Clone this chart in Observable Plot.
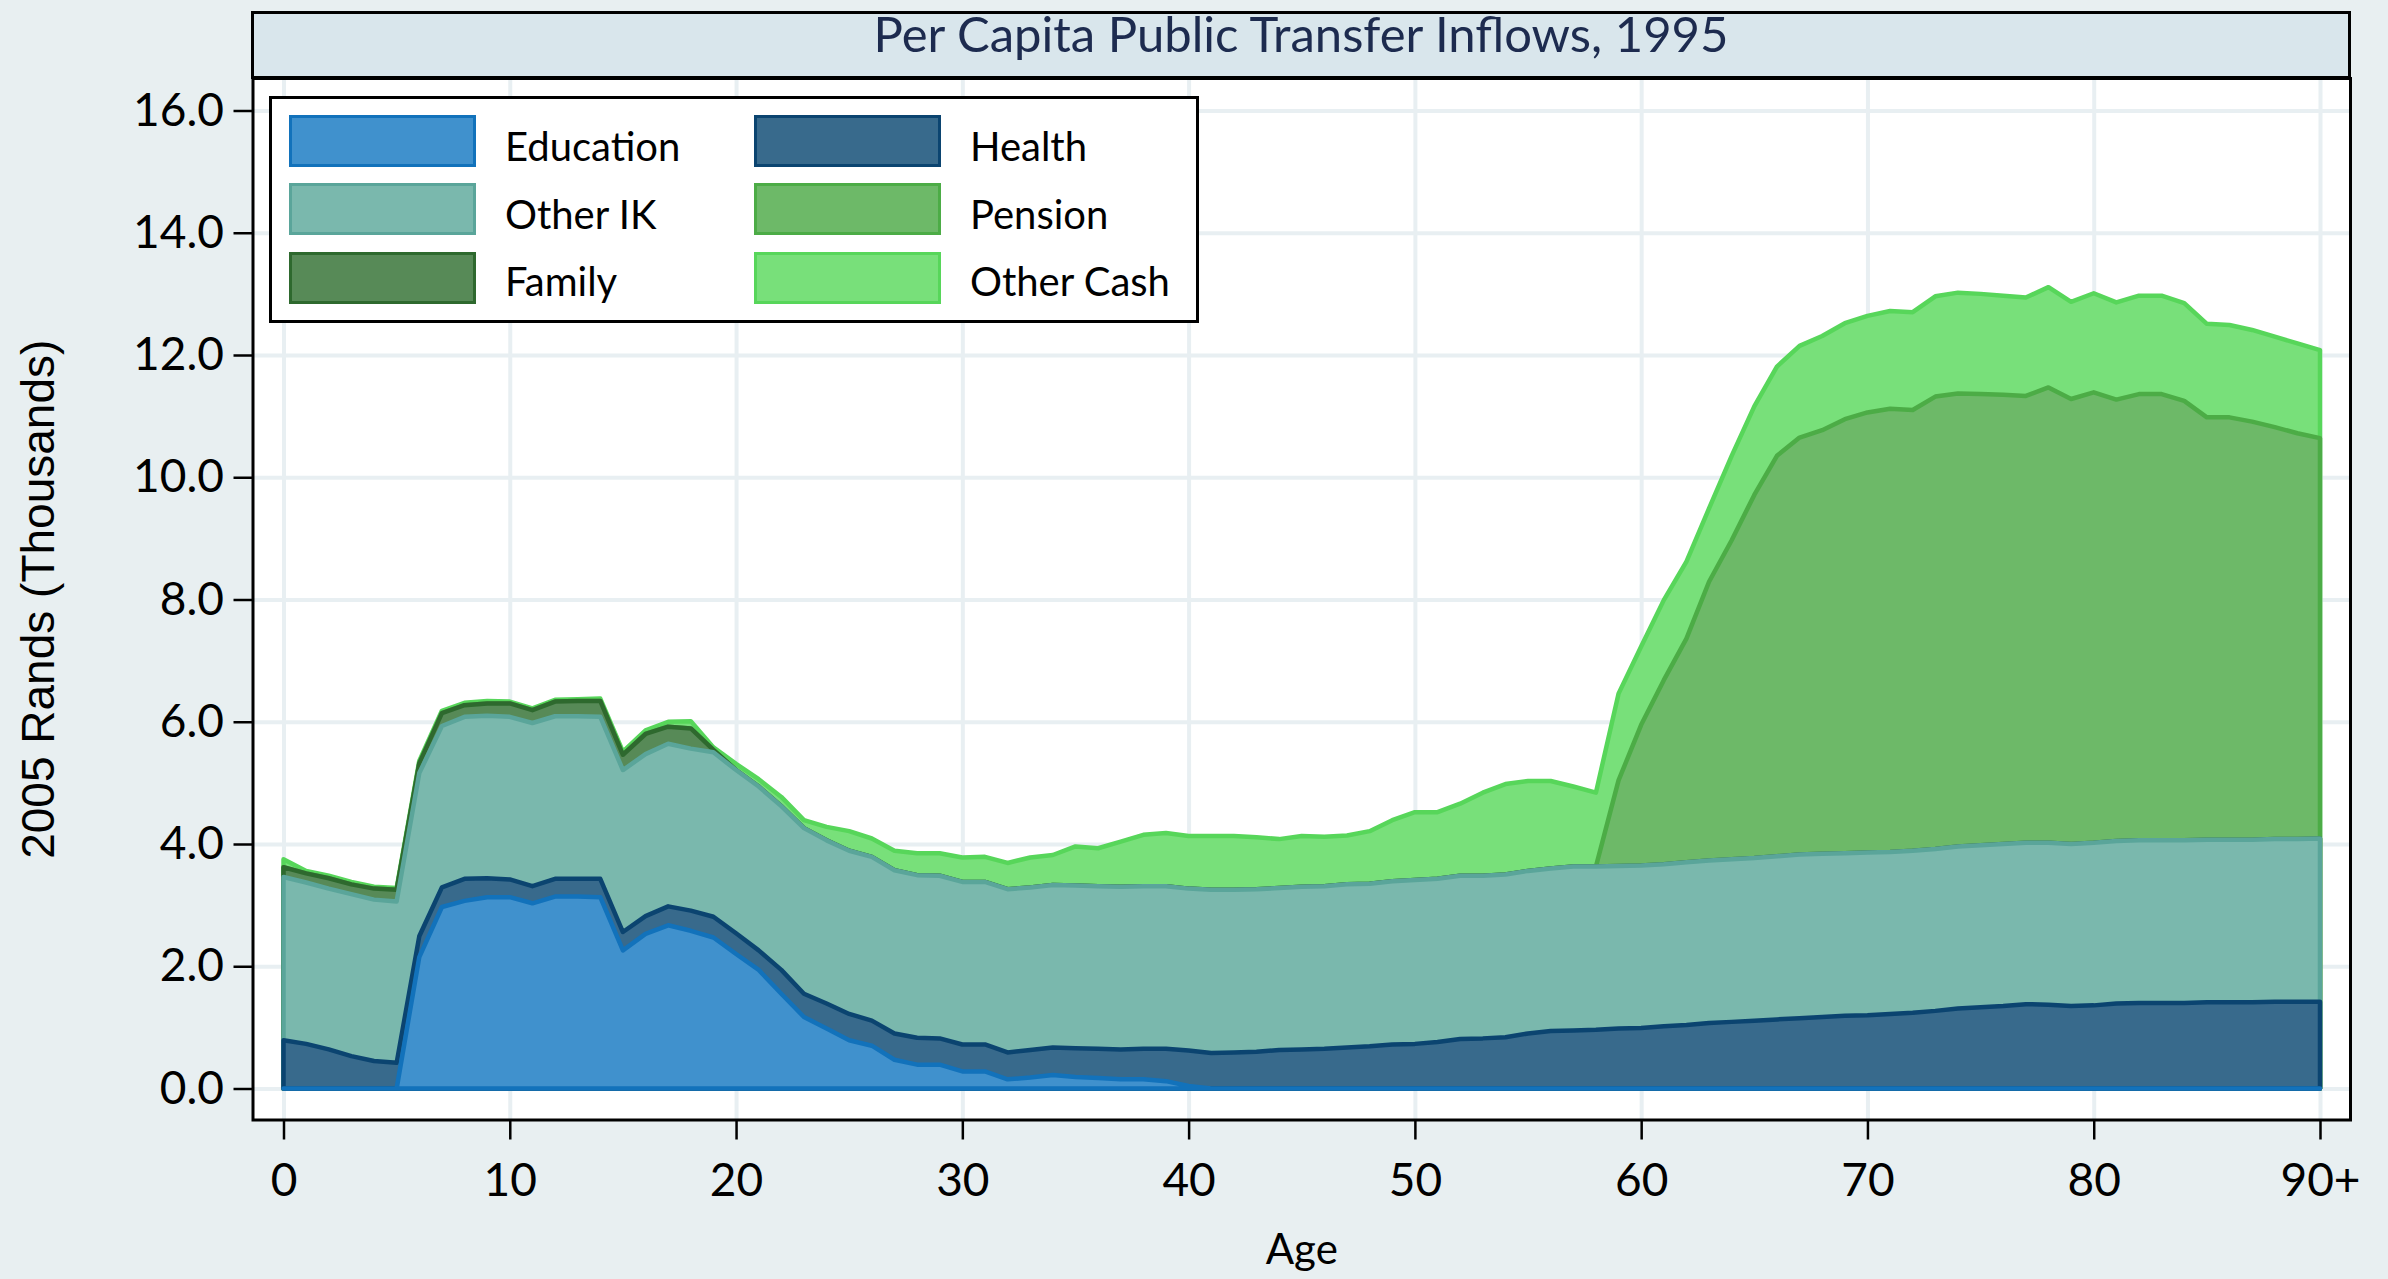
<!DOCTYPE html>
<html>
<head>
<meta charset="utf-8">
<script src="https://cdn.jsdelivr.net/npm/d3@7"></script>
<script src="https://cdn.jsdelivr.net/npm/@observablehq/plot@0.6"></script>
<style>
html, body { margin: 0; padding: 0; background: #e8eff1; }
#wrap { position: relative; width: 2388px; height: 1279px; overflow: hidden; background: #e8eff1; }
#wrap svg { position: absolute; left: 0; top: 0; }
#titleband { position: absolute; left: 251px; top: 11px; width: 2100px; height: 68px; box-sizing: border-box;
  border: 3px solid #000; background: #d9e6ec; }
#titletext { position: absolute; left: 251px; top: 4px; width: 2100px; text-align: center;
  font-family: Lato, sans-serif; font-size: 49px; line-height: 1.2; color: #1d2b4f; white-space: nowrap; }
#legend { position: absolute; left: 269px; top: 96px; width: 930px; height: 227px; box-sizing: border-box;
  border: 3px solid #000; background: #fff; }
.sw { position: absolute; width: 187px; height: 52px; box-sizing: border-box; border: 3px solid; }
.lt { position: absolute; font-family: Lato, sans-serif; font-size: 40px; line-height: 48px; color: #000; white-space: nowrap; }
</style>
</head>
<body>
<div id="wrap"></div>
<script>
// ---- data (thousands of 2005 Rands per capita), ages 0..90+ ----
const ages = Array.from({length: 91}, (_, i) => i);
const xTicks = [0, 10, 20, 30, 40, 50, 60, 70, 80, 90];
const xTickLabels = ["0", "10", "20", "30", "40", "50", "60", "70", "80", "90+"];
const yTicks = [0, 2, 4, 6, 8, 10, 12, 14, 16];

const education = [
  0,0,0,0,0,0,
  2.15,2.97,3.07,3.13,3.13,3.03,3.14,3.14,3.13,2.26,2.53,2.67,2.58,2.47,2.20,1.94,
  1.55,1.17,0.98,0.79,0.70,0.47,0.39,0.39,0.28,0.28,0.15,0.18,0.22,0.19,0.17,0.15,0.15,0.12,0.04,
  0,0,0,0,0,0,0,0,0,0, 0,0,0,0,0,0,0,0,0,0, 0,0,0,0,0,0,0,0,0,0, 0,0,0,0,0,0,0,0,0,0, 0,0,0,0,0,0,0,0,0,0
];
const health = [
  0.79,0.73,0.64,0.53,0.45,0.42,
  0.34,0.32,0.36,0.31,0.29,0.28,0.29,0.29,0.30,0.30,0.29,0.31,0.33,0.34,0.34,0.32,
  0.39,0.38,0.41,0.43,0.41,0.43,0.44,0.43,0.44,0.44,0.44,0.45,0.45,0.47,0.48,0.49,0.50,0.53,0.58,
  0.58,0.59,0.60,0.63,0.64,0.65,0.67,0.69,0.72,0.73,0.76,0.81,0.82,0.84,0.90,0.94,0.95,0.96,0.98,0.99,1.02,1.04,1.07,1.09,1.11,1.13,
  1.15,1.17,1.19,1.20,1.22,1.24,1.27,1.31,1.33,1.35,1.38,1.37,1.35,1.36,1.39,1.40,1.40,1.40,1.41,1.41,1.41,1.42,1.42,1.42
];
const otherIK = [
  2.67,2.64,2.63,2.65,2.64,2.64,2.67,2.64,2.65,2.66,2.66,2.67,2.66,2.66,2.65,2.65,2.65,2.66,2.65,2.69,2.67,2.68,
  2.68,2.71,2.67,2.67,2.68,2.67,2.66,2.66,2.66,2.66,2.67,2.66,2.66,2.66,2.66,2.66,2.66,2.66,2.65,
  2.67,2.66,2.66,2.65,2.66,2.66,2.67,2.66,2.67,2.68,2.67,2.67,2.66,2.66,2.66,2.66,2.68,2.67,2.66,2.66,2.65,2.66,2.66,2.66,2.66,2.67,
  2.68,2.67,2.66,2.66,2.65,2.65,2.65,2.65,2.65,2.65,2.64,2.65,2.65,2.66,2.66,2.66,2.66,2.66,2.66,2.66,2.66,2.66,2.66,2.67
];
const family = [
  0.16,0.15,0.17,0.16,0.18,0.19,0.16,0.21,0.19,0.20,0.22,0.21,0.24,0.25,0.26,0.25,0.33,0.28,0.33,0.04,
  0,0,0,0,0,0,0,0,0,0, 0,0,0,0,0,0,0,0,0,0, 0,0,0,0,0,0,0,0,0,0, 0,0,0,0,0,0,0,0,0,0,
  0,0,0,0,0,0,0,0,0,0, 0,0,0,0,0,0,0,0,0,0, 0,0,0,0,0,0,0,0,0,0, 0
];
const pension = [
  0,0,0,0,0,0,0,0,0,0, 0,0,0,0,0,0,0,0,0,0, 0,0,0,0,0,0,0,0,0,0, 0,0,0,0,0,0,0,0,0,0,
  0,0,0,0,0,0,0,0,0,0, 0,0,0,0,0,0,0,0,0,
  1.40,2.30,3.01,3.66,4.56,5.22,5.94,6.55,6.82,6.93,7.10,7.20,7.25,7.21,7.40,7.41,7.38,7.35,7.31,7.45,
  7.28,7.37,7.22,7.30,7.30,7.19,6.91,6.91,6.84,6.74,6.64,6.55
];
const otherCash = [
  0.13,0.04,0.04,0.04,0.03,0.03,0.04,0.04,0.04,0.04,0.03,0.03,0.03,0.03,0.04,0.05,0.06,0.08,0.12,0.04,0.10,0.12,
  0.15,0.13,0.22,0.32,0.30,0.32,0.36,0.37,0.40,0.41,0.43,0.49,0.49,0.64,0.62,0.74,0.84,0.87,0.86,0.88,0.88,0.85,0.80,0.83,0.81,0.80,0.86,1.00,1.11,1.09,1.18,1.36,1.48,1.47,1.43,1.31,
  1.21,1.42,1.28,1.31,1.26,1.20,1.38,1.45,1.46,1.50,1.54,1.57,1.58,1.60,1.60,1.64,1.65,1.64,1.62,1.61,1.64,1.59,1.62,1.59,1.61,1.61,1.60,1.53,1.51,1.50,1.48,1.47,1.44
];

const seriesNames = ["Education", "Health", "Other IK", "Family", "Pension", "Other Cash"];
const seriesValues = [education, health, otherIK, family, pension, otherCash];
const fills   = ["#4091cd", "#386a8c", "#7ab8ad", "#578a57", "#6db968", "#78e07a"];
const strokes = ["#1272bb", "#0b4470", "#5aa59a", "#2e692e", "#4cac46", "#57d65a"];

// cumulative tops (Stata-style overlaid areas from 0)
const cum = [];
seriesValues.forEach((vals, k) => {
  cum.push(vals.map((v, i) => v + (k > 0 ? cum[k - 1][i] : 0)));
});

const areaMarks = [];
for (let k = seriesValues.length - 1; k >= 0; k--) {
  const data = ages.map((a, i) => ({age: a, top: cum[k][i]}));
  areaMarks.push(Plot.areaY(data, {
    x: "age", y1: 0, y2: "top",
    fill: fills[k], fillOpacity: 1,
    stroke: strokes[k], strokeWidth: 4.5, strokeLinejoin: "round"
  }));
}

const plot = Plot.plot({
  width: 2388, height: 1279,
  marginLeft: 252.5, marginRight: 38, marginTop: 78, marginBottom: 159.5,
  insetLeft: 31, insetRight: 30, insetTop: 32.5, insetBottom: 31,
  x: {domain: [0, 90]},
  y: {domain: [0, 16]},
  style: {fontFamily: "Lato, sans-serif", fontSize: "46px", background: "transparent", color: "#000", overflow: "visible"},
  marks: [
    Plot.frame({fill: "white"}),
    Plot.gridY(yTicks, {stroke: "#e8eff2", strokeOpacity: 1, strokeWidth: 4}),
    Plot.gridX(xTicks, {stroke: "#e8eff2", strokeOpacity: 1, strokeWidth: 4}),
    ...areaMarks,
    Plot.frame({stroke: "#000", strokeWidth: 3}),
    Plot.axisY(yTicks, {tickSize: 19, tickPadding: 10, tickFormat: d => d.toFixed(1), label: null, strokeWidth: 2.5, fill: "#000"}),
    Plot.axisX(xTicks, {tickSize: 20, tickPadding: 23, tickFormat: (d, i) => xTickLabels[xTicks.indexOf(d)], label: null, strokeWidth: 2.5, fill: "#000"}),
    Plot.text(["Age"], {text: d => d, frameAnchor: "bottom", textAnchor: "middle", lineAnchor: "middle", dy: 131, fontSize: 42, fill: "#000"}),
    Plot.text(["2005 Rands (Thousands)"], {text: d => d, frameAnchor: "left", textAnchor: "middle", lineAnchor: "middle", dx: -214, rotate: -90, fontFamily: "Liberation Sans, Arial, sans-serif", fontSize: 46, fill: "#000"})
  ]
});

const wrap = document.getElementById("wrap");
wrap.appendChild(plot);

// title band
const band = document.createElement("div");
band.id = "titleband";
wrap.appendChild(band);
const title = document.createElement("div");
title.id = "titletext";
title.textContent = "Per Capita Public Transfer Inflows, 1995";
wrap.appendChild(title);

// legend
const legendOrder = [[0, 1], [2, 4], [3, 5]]; // rows: [left, right]
const rowTop = [16, 84, 153];
const textTop = [23, 91, 158];
const colSw = [16.5, 481.5];
const colTx = [233, 698];
const legend = document.createElement("div");
legend.id = "legend";
legendOrder.forEach((row, r) => {
  row.forEach((k, c) => {
    const sw = document.createElement("div");
    sw.className = "sw";
    sw.style.left = colSw[c] + "px";
    sw.style.top = rowTop[r] + "px";
    sw.style.background = fills[k];
    sw.style.borderColor = strokes[k];
    legend.appendChild(sw);
    const t = document.createElement("div");
    t.className = "lt";
    t.style.left = colTx[c] + "px";
    t.style.top = textTop[r] + "px";
    t.textContent = seriesNames[k];
    legend.appendChild(t);
  });
});
wrap.appendChild(legend);
</script>
</body>
</html>
